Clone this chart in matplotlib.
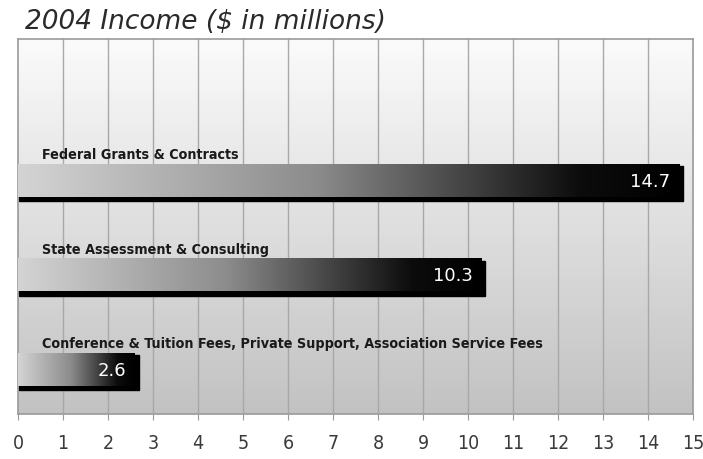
import numpy as np
import matplotlib
matplotlib.use('Agg')
import matplotlib.pyplot as plt
from matplotlib.colors import LinearSegmentedColormap
from matplotlib.patches import Rectangle

# data
categories = ['Federal Grants & Contracts',
              'State Assessment & Consulting',
              'Conference & Tuition Fees, Private Support, Association Service Fees']
values = [14.7, 10.3, 2.6]
ticks = list(range(0, 16))

fig = plt.figure(figsize=(7.03, 4.6), dpi=100)
ax = fig.add_axes([18 / 703, 45 / 460, 675 / 703, 375 / 460])

# background gradient, white at top to gray at bottom
bg_cmap = LinearSegmentedColormap.from_list('bg', ['#c2c2c2', '#fbfbfb'])
grad = np.linspace(0, 1, 256).reshape(-1, 1)
ax.imshow(grad, extent=[0, 15, -0.466, 3.5], origin='lower', aspect='auto',
          cmap=bg_cmap, zorder=0)

for t in ticks[1:-1]:
    ax.axvline(t, color='#a8a8a8', lw=1, zorder=1)

bar_cmap = LinearSegmentedColormap.from_list(
    'bar', [(0, '#d4d4d4'), (0.45, '#8c8c8c'), (0.85, '#0c0c0c'), (1, '#000000')])
h = 0.34
ypos = [2, 1, 0]
for y, v, name in zip(ypos, values, categories):
    # drop shadow under and right of the bar
    ax.add_patch(Rectangle((0.02, y - h / 2 - 0.045), v + 0.06, h + 0.03, color='black', zorder=2))
    ax.imshow(np.linspace(0, 1, 256).reshape(1, -1), extent=[0, v, y - h / 2, y + h / 2],
              aspect='auto', cmap=bar_cmap, zorder=3)
    ax.text(0.53, y + h / 2 + 0.04, name, family='DejaVu Sans', fontstretch='condensed',
            fontsize=10.3, fontweight='bold', color='#1a1a1a', va='bottom', ha='left', zorder=4)
    ax.text(v - 0.2, y, '%.1f' % v, color='white', fontsize=13, ha='right',
            va='center', zorder=4)

ax.set_xlim(0, 15)
ax.set_ylim(-0.466, 3.5)
ax.set_xticks(ticks)
ax.set_xticklabels([str(t) for t in ticks], family='DejaVu Sans', fontstretch='condensed',
                   fontsize=14, color='#3a3a3a')
ax.set_yticks([])
ax.tick_params(axis='x', length=4, color='#9a9a9a', pad=10)
for s in ax.spines.values():
    s.set_color('#9a9a9a')
    s.set_linewidth(1.2)

fig.text(25 / 703, 1 - 22 / 460, '2004 Income ($ in millions)', fontsize=19,
         style='italic', color='#2a2a2a', va='center', ha='left')

fig.savefig('out.png', dpi=100)
